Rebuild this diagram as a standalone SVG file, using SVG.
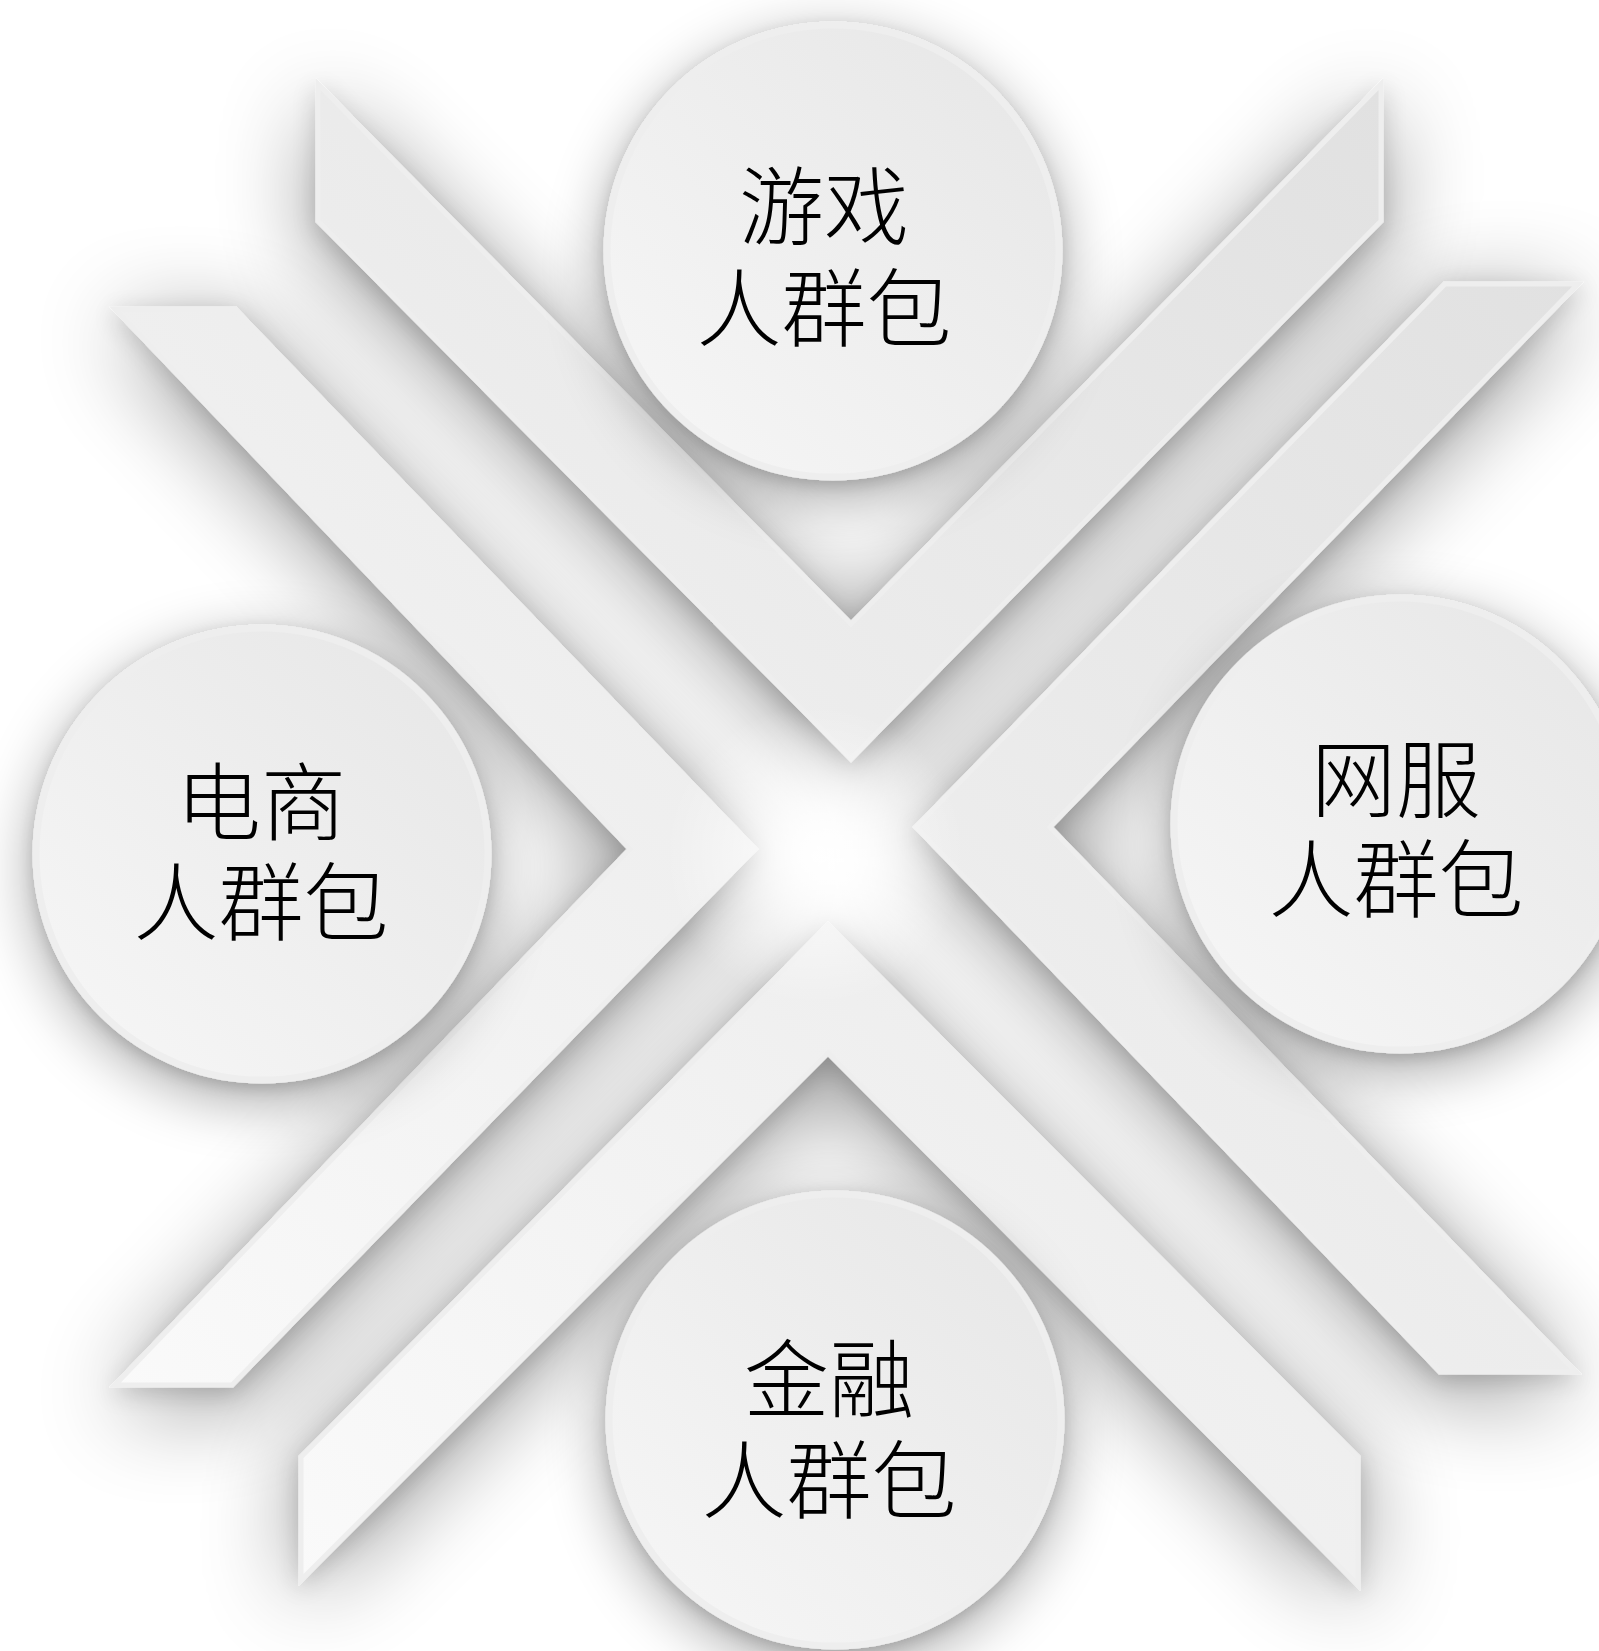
<svg xmlns="http://www.w3.org/2000/svg" width="1599" height="1651" viewBox="0 0 1599 1651">
<style>
.chev{stroke:#eeeeee;stroke-width:5;stroke-linejoin:miter;filter:url(#shadow)}
.disc{fill:url(#discFill);stroke:#eeeeee;stroke-width:7;filter:url(#cshadow)}
.label{font-family:"Noto Sans CJK SC","Noto Sans CJK JP",sans-serif;font-size:85px;fill:#000;text-anchor:middle;font-weight:300}
</style>
<defs>
<filter id="shadow" x="-40%" y="-40%" width="180%" height="180%">
<feGaussianBlur in="SourceAlpha" stdDeviation="48" result="b1"/>
<feOffset in="b1" dy="18" result="o1"/>
<feComponentTransfer in="o1" result="s1"><feFuncA type="linear" slope="0.42"/></feComponentTransfer>
<feGaussianBlur in="SourceAlpha" stdDeviation="12" result="b2"/>
<feOffset in="b2" dy="6" result="o2"/>
<feComponentTransfer in="o2" result="s2"><feFuncA type="linear" slope="0.18"/></feComponentTransfer>
<feMerge><feMergeNode in="s1"/><feMergeNode in="s2"/><feMergeNode in="SourceGraphic"/></feMerge>
</filter>
<filter id="cshadow" x="-40%" y="-40%" width="180%" height="180%">
<feGaussianBlur in="SourceAlpha" stdDeviation="30" result="b1"/>
<feOffset in="b1" dy="16" result="o1"/>
<feComponentTransfer in="o1" result="s1"><feFuncA type="linear" slope="0.35"/></feComponentTransfer>
<feGaussianBlur in="SourceAlpha" stdDeviation="8" result="b2"/>
<feOffset in="b2" dy="5" result="o2"/>
<feComponentTransfer in="o2" result="s2"><feFuncA type="linear" slope="0.15"/></feComponentTransfer>
<feMerge><feMergeNode in="s1"/><feMergeNode in="s2"/><feMergeNode in="SourceGraphic"/></feMerge>
</filter>
<linearGradient id="lightDir" gradientUnits="userSpaceOnUse" x1="1500" y1="100" x2="150" y2="1550">
<stop offset="0" stop-color="#e0e0e0"/>
<stop offset="1" stop-color="#fbfbfb"/>
</linearGradient>
<linearGradient id="discFill" x1="1" y1="0" x2="0" y2="1">
<stop offset="0" stop-color="#e6e6e6"/>
<stop offset="1" stop-color="#f7f7f7"/>
</linearGradient>
<radialGradient id="glow" cx="815" cy="855" r="150" gradientUnits="userSpaceOnUse">
<stop offset="0" stop-color="#ffffff" stop-opacity="0.9"/>
<stop offset="0.5" stop-color="#ffffff" stop-opacity="0.45"/>
<stop offset="1" stop-color="#ffffff" stop-opacity="0"/>
</radialGradient>
</defs>
<rect width="1599" height="1651" fill="#ffffff"/>
<g id="chevrons">
<polygon id="chevron-top" class="chev" fill="url(#lightDir)" points="318,84 851,624 1381,84 1381,221 851,759 318,221"/>
<polygon id="chevron-left" class="chev" fill="url(#lightDir)" points="115,309 235,309 755,849 232,1385 115,1385 630,849"/>
<polygon id="chevron-right" class="chev" fill="url(#lightDir)" points="1445,284 1578,284 1050,827 1576,1372 1440,1372 916,827"/>
<polygon id="chevron-bottom" class="chev" fill="url(#lightDir)" points="828,925 1358,1457 1358,1585 828,1053 301,1580 301,1457"/>
</g>
<circle cx="815" cy="855" r="150" fill="url(#glow)"/>
<g id="node-game">
<circle class="disc" cx="833" cy="251" r="226"/>
<text class="label" x="824" y="238"><tspan x="824">游戏</tspan><tspan x="824" dy="102">人群包</tspan></text>
</g>
<g id="node-clothes">
<circle class="disc" cx="1400" cy="824" r="226"/>
<text class="label" x="1396" y="811"><tspan x="1396">网服</tspan><tspan x="1396" dy="100">人群包</tspan></text>
</g>
<g id="node-ecommerce">
<circle class="disc" cx="262" cy="854" r="226"/>
<text class="label" x="261" y="834"><tspan x="261">电商</tspan><tspan x="261" dy="100">人群包</tspan></text>
</g>
<g id="node-finance">
<circle class="disc" cx="835" cy="1420" r="226"/>
<text class="label" x="829" y="1411"><tspan x="829">金融</tspan><tspan x="829" dy="101">人群包</tspan></text>
</g>
</svg>
